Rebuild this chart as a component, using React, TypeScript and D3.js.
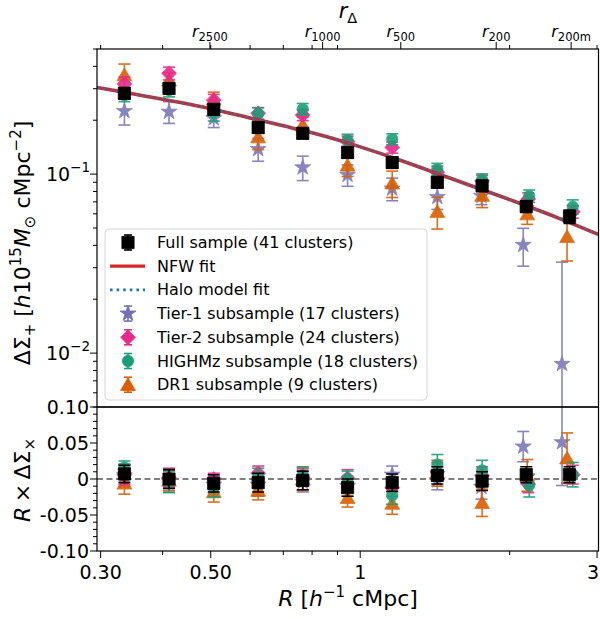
import React from "react";
import * as d3 from "d3";

// ---------- data ----------
const radii = [0.335, 0.412, 0.507, 0.623, 0.766, 0.943, 1.16, 1.43, 1.76, 2.16, 2.64];
const radiiTier1 = [0.335, 0.412, 0.507, 0.623, 0.766, 0.943, 1.16, 1.43, 1.755, 2.13, 2.55];
const radiiTier2 = [0.335, 0.412, 0.507, 0.623, 0.766, 0.943, 1.16, 1.43, 1.76, 2.18, 2.68];
const radiiHighmz = [0.335, 0.412, 0.507, 0.623, 0.766, 0.943, 1.16, 1.43, 1.76, 2.19, 2.68];
const radiiDr1 = [0.335, 0.412, 0.507, 0.623, 0.766, 0.943, 1.16, 1.43, 1.76, 2.17, 2.61];

const fullPlus = [0.283, 0.301, 0.23, 0.182, 0.169, 0.132, 0.116, 0.09, 0.086, 0.066, 0.058];
const fullPlusErr = [0.02, 0.02, 0.016, 0.013, 0.011, 0.009, 0.008, 0.006, 0.006, 0.005, 0.005];
const tier1Plus = [0.225, 0.223, 0.205, 0.138, 0.109, 0.099, 0.083, 0.0745, 0.0755, 0.0402, 0.0087];
const tier1PlusErr = [0.037, 0.031, 0.023, 0.02, 0.017, 0.0135, 0.012, 0.011, 0.008, 0.0096, 0.0235];
const tier2Plus = [0.319, 0.366, 0.259, 0.219, 0.214, 0.152, 0.141, 0.1027, 0.0915, 0.0726, 0.0617];
const tier2PlusErr = [0.03, 0.03, 0.02, 0.016, 0.015, 0.011, 0.01, 0.008, 0.007, 0.006, 0.005];
const highmzPlus = [0.276, 0.295, 0.22, 0.217, 0.231, 0.155, 0.157, 0.1068, 0.0933, 0.0755, 0.0658];
const highmzPlusErr = [0.022, 0.025, 0.022, 0.018, 0.017, 0.012, 0.011, 0.008, 0.007, 0.006, 0.006];
const dr1Plus = [0.358, 0.335, 0.262, 0.161, 0.188, 0.112, 0.089, 0.0617, 0.076, 0.0598, 0.0447];
const dr1PlusErr = [0.054, 0.035, 0.025, 0.024, 0.02, 0.015, 0.015, 0.0124, 0.011, 0.0074, 0.012];

const fullCross = [0.007, 0.0, -0.006, -0.005, -0.002, -0.012, -0.005, 0.005, -0.003, 0.006, 0.006];
const fullCrossErr = [0.012, 0.013, 0.012, 0.013, 0.013, 0.012, 0.012, 0.012, 0.013, 0.011, 0.011];
const tier1Cross = [0.005, -0.003, -0.008, -0.008, -0.004, -0.01, 0.006, -0.002, -0.011, 0.045, 0.051];
const tier1CrossErr = [0.016, 0.015, 0.012, 0.016, 0.014, 0.014, 0.012, 0.013, 0.017, 0.021, 0.06];
const tier2Cross = [0.006, 0.002, 0.0, 0.008, 0.002, 0.001, -0.012, 0.01, 0.005, -0.007, 0.006];
const tier2CrossErr = [0.014, 0.013, 0.008, 0.01, 0.012, 0.012, 0.012, 0.013, 0.012, 0.012, 0.013];
const highmzCross = [0.016, -0.004, -0.012, 0.003, 0.005, 0.0, -0.023, 0.02, 0.012, -0.009, 0.006];
const highmzCrossErr = [0.009, 0.015, 0.013, 0.012, 0.012, 0.011, 0.012, 0.014, 0.014, 0.016, 0.017];
const dr1Cross = [-0.006, -0.002, -0.018, -0.016, 0.0, -0.026, -0.034, 0.008, -0.033, 0.005, 0.029];
const dr1CrossErr = [0.015, 0.014, 0.014, 0.013, 0.016, 0.013, 0.015, 0.018, 0.019, 0.022, 0.035];

const fitRadii = [0.295, 0.35, 0.4, 0.5, 0.6, 0.7, 0.8, 1.0, 1.2, 1.5, 2.0, 2.5, 3.02];
const nfwFit = [0.305, 0.28, 0.262, 0.232, 0.206, 0.186, 0.17, 0.142, 0.12, 0.096, 0.072, 0.057, 0.046];
const haloFit = [0.305, 0.28, 0.262, 0.232, 0.206, 0.186, 0.17, 0.142, 0.12, 0.096, 0.072, 0.057, 0.046];

const xMajorTicks = [0.3, 0.5, 1, 3];
const xMajorLabels = ["0.30", "0.50", "1", "3"];
const xMinorTicks = [0.4, 0.6, 0.7, 0.8, 0.9, 2];
const topMinorTicks = [0.3, 0.4, 0.5, 0.6, 0.7, 0.8, 0.9, 2, 3];
const rDeltaTicks = [0.498, 0.84, 1.207, 1.879, 2.66];
const rDeltaLabels = ["2500", "1000", "500", "200", "200m"];
const yTopMajor = [0.01, 0.1];
const yTopMajorExp = ["−2", "−1"];
const yTopMinor = [0.005, 0.006, 0.007, 0.008, 0.009, 0.02, 0.03, 0.04, 0.05, 0.06, 0.07, 0.08, 0.09, 0.2, 0.3, 0.4, 0.5];
const yBotMajor = [-0.1, -0.05, 0, 0.05, 0.1];
const yBotLabels = ["-0.10", "-0.05", "0", "0.05", "0.10"];

const legendLabels = [
  "Full sample (41 clusters)",
  "NFW fit",
  "Halo model fit",
  "Tier-1 subsample (17 clusters)",
  "Tier-2 subsample (24 clusters)",
  "HIGHMz subsample (18 clusters)",
  "DR1 subsample (9 clusters)",
];

// ---------- layout ----------
const W = 600;
const H = 619;
const L = 97;
const RGT = 598.5;
const TOP = 49;
const MID = 407;
const BOT = 551;
const FONT = "DejaVu Sans";

const x = d3.scaleLog().domain([0.295, 3.02]).range([L, RGT]);
const yTop = d3.scaleLog().domain([0.005, 0.5]).range([MID, TOP]);
const yBot = d3.scaleLinear().domain([-0.1, 0.1]).range([BOT, MID]);

const COLORS = {
  full: "#000000",
  tier1: "#7570b3",
  tier2: "#e7298a",
  highmz: "#1b9e77",
  dr1: "#d95f02",
  nfw: "#d62728",
  halo: "#1f77b4",
};

type Shape = "square" | "star" | "diamond" | "circle" | "triangle";

function markerPath(shape: Shape): string {
  switch (shape) {
    case "square":
      return d3.symbol().type(d3.symbolSquare).size(150)() as string;
    case "star":
      return d3.symbol().type(d3.symbolStar).size(80)() as string;
    case "diamond":
      return d3.symbol().type(d3.symbolSquare).size(110)() as string;
    case "circle":
      return d3.symbol().type(d3.symbolCircle).size(100)() as string;
    case "triangle":
      return d3.symbol().type(d3.symbolTriangle).size(95)() as string;
  }
}

function Marker({ shape, cx, cy, color }: { shape: Shape; cx: number; cy: number; color: string }) {
  const rot = shape === "diamond" ? " rotate(45)" : "";
  const dy = shape === "triangle" ? 1.5 : 0;
  return (
    <path d={markerPath(shape)} transform={`translate(${cx},${cy + dy})${rot}`} fill={color} stroke={color} strokeWidth={0.8} />
  );
}

function Series({
  rs,
  vals,
  errs,
  color,
  shape,
  log,
  opacity = 1,
}: {
  rs: number[];
  vals: number[];
  errs: number[];
  color: string;
  shape: Shape;
  log: boolean;
  opacity?: number;
}) {
  const yS = log ? yTop : yBot;
  const cap = 6;
  return (
    <g opacity={opacity}>
      {vals.map((v, i) => {
        const cx = x(rs[i]);
        const hi = v + errs[i];
        const lo = v - errs[i];
        const yHi = yS(hi);
        const yLo = log && lo <= 0 ? MID + 30 : yS(lo);
        return (
          <g key={"e" + i} stroke={color} strokeWidth={1.6}>
            <line x1={cx} x2={cx} y1={yHi} y2={yLo} />
            <line x1={cx - cap} x2={cx + cap} y1={yHi} y2={yHi} />
            <line x1={cx - cap} x2={cx + cap} y1={yLo} y2={yLo} />
          </g>
        );
      })}
      {vals.map((v, i) => (
        <Marker key={"m" + i} shape={shape} cx={x(rs[i])} cy={yS(v)} color={color} />
      ))}
    </g>
  );
}

function LegendErr({ cx, cy, color, shape }: { cx: number; cy: number; color: string; shape: Shape }) {
  return (
    <g>
      <g stroke={color} strokeWidth={1.6}>
        <line x1={cx} x2={cx} y1={cy - 7.5} y2={cy + 7.5} />
        <line x1={cx - 4} x2={cx + 4} y1={cy - 7.5} y2={cy - 7.5} />
        <line x1={cx - 4} x2={cx + 4} y1={cy + 7.5} y2={cy + 7.5} />
      </g>
      <Marker shape={shape} cx={cx} cy={cy} color={color} />
    </g>
  );
}

export default function App() {
  const fitLine = d3
    .line<number>()
    .x((_, i) => x(fitRadii[i]))
    .y((d) => yTop(d))
    .curve(d3.curveMonotoneX);

  const subsTop = (
    <>
      <Series rs={radiiTier1} vals={tier1Plus} errs={tier1PlusErr} color={COLORS.tier1} shape="star" log opacity={0.85} />
      <Series rs={radiiDr1} vals={dr1Plus} errs={dr1PlusErr} color={COLORS.dr1} shape="triangle" log opacity={0.9} />
      <Series rs={radiiTier2} vals={tier2Plus} errs={tier2PlusErr} color={COLORS.tier2} shape="diamond" log opacity={0.9} />
      <Series rs={radiiHighmz} vals={highmzPlus} errs={highmzPlusErr} color={COLORS.highmz} shape="circle" log opacity={0.9} />
    </>
  );

  const legX = 105;
  const legY = 229;
  const legRowY = (i: number) => 242.5 + i * 23.7;
  const legShapes: { type: "err" | "line" | "dot"; color: string; shape?: Shape }[] = [
    { type: "err", color: COLORS.full, shape: "square" },
    { type: "line", color: COLORS.nfw },
    { type: "dot", color: COLORS.halo },
    { type: "err", color: COLORS.tier1, shape: "star" },
    { type: "err", color: COLORS.tier2, shape: "diamond" },
    { type: "err", color: COLORS.highmz, shape: "circle" },
    { type: "err", color: COLORS.dr1, shape: "triangle" },
  ];

  return (
    <svg width={W} height={H} style={{ display: "block", position: "absolute", left: 0, top: 0 }} fontFamily={FONT}>
      <rect x={0} y={0} width={W} height={H} fill="#fff" />
      <defs>
        <clipPath id="clipTop">
          <rect x={L} y={TOP} width={RGT - L} height={MID - TOP} />
        </clipPath>
        <clipPath id="clipBot">
          <rect x={L} y={MID} width={RGT - L} height={BOT - MID} />
        </clipPath>
      </defs>

      {/* top panel content */}
      <g clipPath="url(#clipTop)">
        {subsTop}
        <path d={fitLine(nfwFit) as string} fill="none" stroke={COLORS.nfw} strokeWidth={3.6} />
        <path d={fitLine(haloFit) as string} fill="none" stroke={COLORS.halo} strokeWidth={2.6} strokeDasharray="2.6,4" />
        <Series rs={radii} vals={fullPlus} errs={fullPlusErr} color={COLORS.full} shape="square" log />
      </g>

      {/* legend */}
      <g>
        <rect x={legX} y={legY} width={322} height={171} rx={4} fill="#fff" fillOpacity={0.8} stroke="#d6d6d6" strokeWidth={1} />
        {legendLabels.map((lab, i) => {
          const cy = legRowY(i);
          const s = legShapes[i];
          return (
            <g key={lab}>
              {s.type === "err" && <LegendErr cx={128} cy={cy} color={s.color} shape={s.shape as Shape} />}
              {s.type === "line" && <line x1={110} x2={145} y1={cy} y2={cy} stroke={s.color} strokeWidth={3.2} />}
              {s.type === "dot" && (
                <line x1={110} x2={145} y1={cy} y2={cy} stroke={s.color} strokeWidth={2.6} strokeDasharray="2.6,4" />
              )}
              <text x={157} y={cy + 5.5} fontSize={16} fill="#000">
                {lab}
              </text>
            </g>
          );
        })}
      </g>

      {/* bottom panel content */}
      <g clipPath="url(#clipBot)">
        <line x1={L} x2={RGT} y1={yBot(0)} y2={yBot(0)} stroke="#808080" strokeWidth={1.8} strokeDasharray="6,3.5" />
        <Series rs={radiiTier1} vals={tier1Cross} errs={tier1CrossErr} color={COLORS.tier1} shape="star" log={false} opacity={0.85} />
        <Series rs={radiiDr1} vals={dr1Cross} errs={dr1CrossErr} color={COLORS.dr1} shape="triangle" log={false} opacity={0.9} />
        <Series rs={radiiTier2} vals={tier2Cross} errs={tier2CrossErr} color={COLORS.tier2} shape="diamond" log={false} opacity={0.9} />
        <Series rs={radiiHighmz} vals={highmzCross} errs={highmzCrossErr} color={COLORS.highmz} shape="circle" log={false} opacity={0.9} />
        <Series rs={radii} vals={fullCross} errs={fullCrossErr} color={COLORS.full} shape="square" log={false} />
      </g>

      {/* frames */}
      <rect x={L} y={TOP} width={RGT - L} height={MID - TOP} fill="none" stroke="#000" strokeWidth={1.2} />
      <rect x={L} y={MID} width={RGT - L} height={BOT - MID} fill="none" stroke="#000" strokeWidth={1.2} />

      {/* top axis (r_Delta) */}
      <g stroke="#000" strokeWidth={1}>
        {topMinorTicks.map((t) => (
          <line key={"tm" + t} x1={x(t)} x2={x(t)} y1={TOP} y2={TOP - 4} />
        ))}
        {rDeltaTicks.map((t) => (
          <line key={"tr" + t} x1={x(t)} x2={x(t)} y1={TOP} y2={TOP - 7} />
        ))}
      </g>
      {rDeltaTicks.map((t, i) => (
        <text key={"rl" + t} x={x(t)} y={37} textAnchor="middle" fontSize={16}>
          <tspan fontStyle="italic">r</tspan>
          <tspan fontSize={11.5} dy={4}>
            {rDeltaLabels[i]}
          </tspan>
        </text>
      ))}
      <text x={348} y={18} textAnchor="middle" fontSize={21}>
        <tspan fontStyle="italic">r</tspan>
        <tspan fontSize={14.5} dy={5}>
          Δ
        </tspan>
      </text>

      {/* top panel y axis */}
      <g stroke="#000" strokeWidth={1}>
        {yTopMinor.map((t) => (
          <line key={"ym" + t} x1={L} x2={L - 4} y1={yTop(t)} y2={yTop(t)} />
        ))}
        {yTopMajor.map((t) => (
          <line key={"yM" + t} x1={L} x2={L - 7} y1={yTop(t)} y2={yTop(t)} />
        ))}
      </g>
      {yTopMajor.map((t, i) => (
        <text key={"yl" + t} x={90} y={yTop(t) + 7} textAnchor="end" fontSize={19}>
          <tspan>10</tspan>
          <tspan fontSize={13.5} dy={-9}>
            {yTopMajorExp[i]}
          </tspan>
        </text>
      ))}

      {/* bottom panel y axis */}
      <g stroke="#000" strokeWidth={1}>
        {d3.range(-10, 11).map((k) => (
          <line key={"bm" + k} x1={L} x2={L - (k % 5 === 0 ? 7 : 4)} y1={yBot(k / 100)} y2={yBot(k / 100)} />
        ))}
      </g>
      {yBotMajor.map((t, i) => (
        <text key={"bl" + t} x={89} y={yBot(t) + 7} textAnchor="end" fontSize={19}>
          {yBotLabels[i]}
        </text>
      ))}

      {/* bottom x axis */}
      <g stroke="#000" strokeWidth={1}>
        {xMinorTicks.map((t) => (
          <line key={"xm" + t} x1={x(t)} x2={x(t)} y1={BOT} y2={BOT + 4} />
        ))}
        {xMajorTicks.map((t) => (
          <line key={"xM" + t} x1={x(t)} x2={x(t)} y1={BOT} y2={BOT + 7} />
        ))}
      </g>
      {xMajorTicks.map((t, i) => (
        <text key={"xl" + t} x={Math.min(x(t), W - 7)} y={579} textAnchor="middle" fontSize={19}>
          {xMajorLabels[i]}
        </text>
      ))}

      {/* axis labels */}
      <text x={348} y={606} textAnchor="middle" fontSize={22}>
        <tspan fontStyle="italic">R</tspan>
        <tspan> [</tspan>
        <tspan fontStyle="italic">h</tspan>
        <tspan fontSize={15} dy={-9}>
          −1
        </tspan>
        <tspan dy={9}> cMpc]</tspan>
      </text>
      <text transform="translate(30,243) rotate(-90)" textAnchor="middle" fontSize={22}>
        <tspan>ΔΣ</tspan>
        <tspan fontSize={15} dy={5}>
          +
        </tspan>
        <tspan dy={-5}> [</tspan>
        <tspan fontStyle="italic">h</tspan>
        <tspan>10</tspan>
        <tspan fontSize={15} dy={-9}>
          15
        </tspan>
        <tspan dy={9} fontStyle="italic">
          M
        </tspan>
        <tspan fontSize={15} dy={5}>
          ⊙
        </tspan>
        <tspan dy={-5}> cMpc</tspan>
        <tspan fontSize={15} dy={-9}>
          −2
        </tspan>
        <tspan dy={9}>]</tspan>
      </text>
      <text transform="translate(30,480) rotate(-90)" textAnchor="middle" fontSize={22}>
        <tspan fontStyle="italic">R</tspan>
        <tspan>{"\u2009×\u2009ΔΣ"}</tspan>
        <tspan fontSize={15} dy={5}>
          ×
        </tspan>
      </text>
    </svg>
  );
}
